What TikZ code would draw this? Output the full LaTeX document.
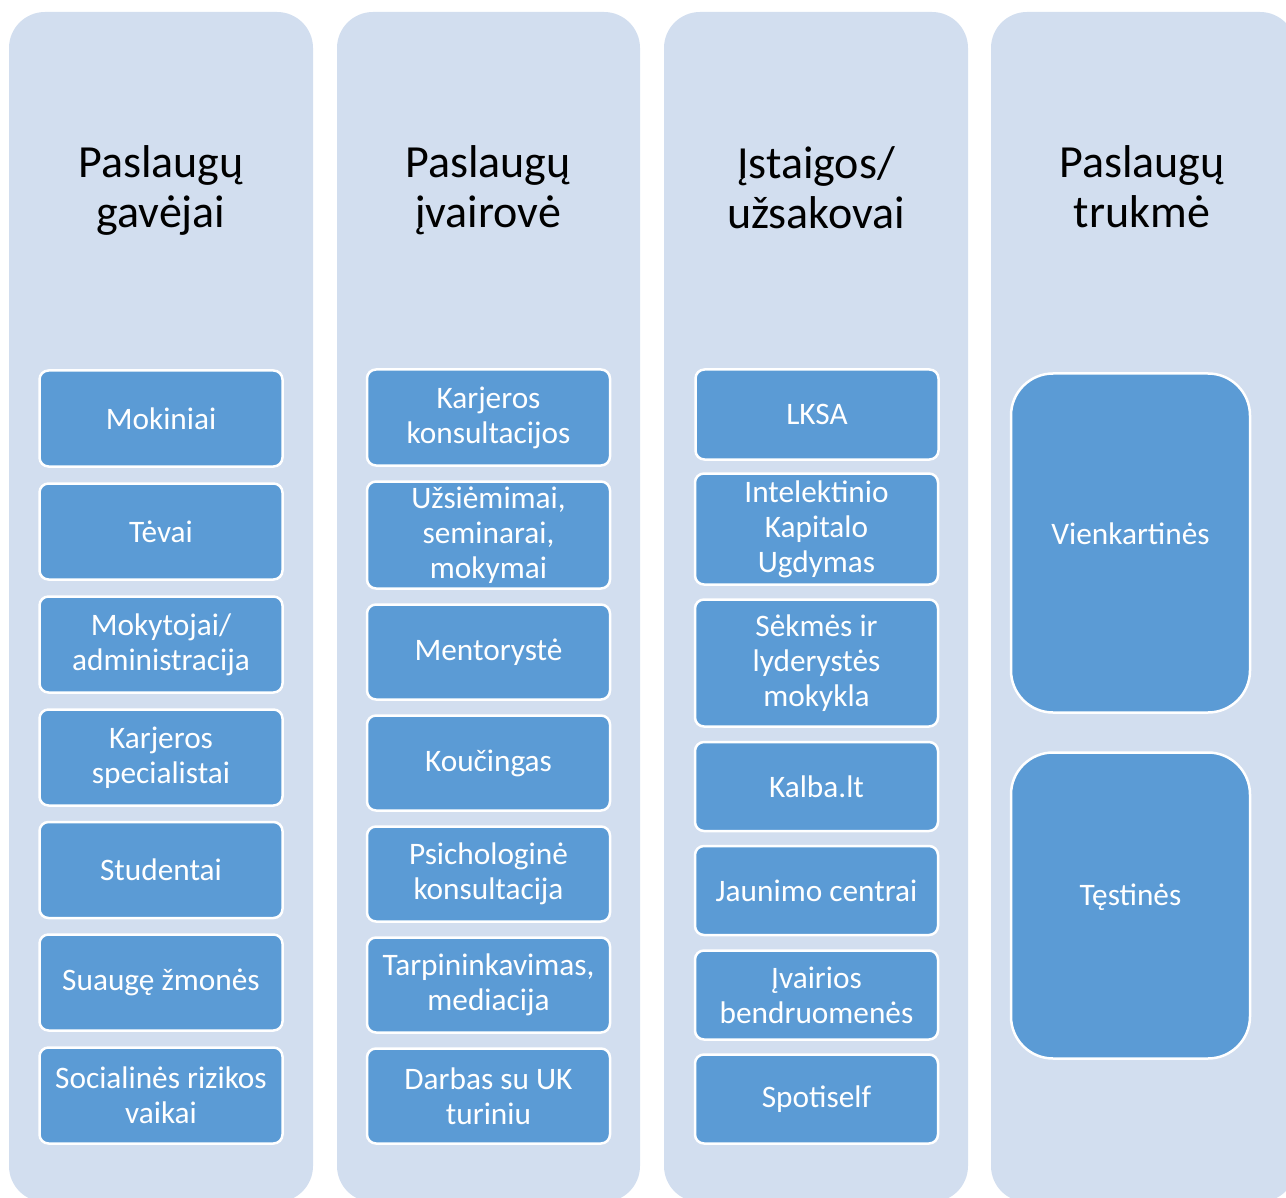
\documentclass[tikz,border=0pt]{standalone}
\usepackage{fontspec}
\setmainfont{Carlito}
\definecolor{colbg}{HTML}{D2DEEF}
\definecolor{boxblue}{HTML}{5B9BD5}
\tikzset{
  colbox/.style={fill=colbg, rounded corners=36pt},
  coltitle/.style={align=center, text=black, font=\fontsize{46}{50}\selectfont, inner sep=0pt},
  item/.style={draw=white, line width=2.5pt, fill=boxblue, rounded corners=9pt, text=white,
    align=center, font=\fontsize{31.3}{35}\selectfont, inner sep=0pt, minimum width=243pt},
  bigitem/.style={item, rounded corners=42pt, minimum width=239pt},
  bigtext/.style={text=white, font=\fontsize{31.3}{35}\selectfont, inner sep=0pt},
}
\begin{document}
\begin{tikzpicture}[x=1pt,y=-1pt]
\useasboundingbox (0,0) rectangle (1286,1198);
\clip (0,0) rectangle (1286,1198);
% columns
\fill[colbox] (9,12) rectangle (313,1202);
\fill[colbox] (337,12) rectangle (640,1202);
\fill[colbox] (664,12) rectangle (968,1202);
\fill[colbox] (991,12) rectangle (1296,1202);
% titles
\node[coltitle] (t1) at (161,190) {Paslaugų\\gavėjai};
\node[coltitle] (t2) at (488,190) {Paslaugų\\įvairovė};
\node[coltitle] (t3) at (816,188) {Įstaigos/\\užsakovai};
\node[coltitle] (t4) at (1142,187) {Paslaugų\\trukmė};
% column 1
\node[item, minimum height=96pt] (a1) at (161,418.5) {Mokiniai};
\node[item, minimum height=96pt] (a2) at (161,531.5) {Tėvai};
\node[item, minimum height=96pt] (a3) at (161,644.5) {Mokytojai/\\administracija};
\node[item, minimum height=96pt] (a4) at (161,757.5) {Karjeros\\specialistai};
\node[item, minimum height=96pt] (a5) at (161,870) {Studentai};
\node[item, minimum height=96pt] (a6) at (161,982.5) {Suaugę žmonės};
\node[item, minimum height=96pt] (a7) at (161,1095.5) {Socialinės rizikos\\vaikai};
% column 2
\node[item, minimum height=96pt] (b1) at (488.5,417.5) {Karjeros\\konsultacijos};
\node[item, minimum height=107pt] (b2) at (488.5,535) {Užsiėmimai,\\seminarai,\\mokymai};
\node[item, minimum height=95pt] (b3) at (488.5,652) {Mentorystė};
\node[item, minimum height=95pt] (b4) at (488.5,763) {Koučingas};
\node[item, minimum height=95pt] (b5) at (488.5,874) {Psichologinė\\konsultacija};
\node[item, minimum height=95pt] (b6) at (488.5,985) {Tarpininkavimas,\\mediacija};
\node[item, minimum height=95pt] (b7) at (488.5,1096) {Darbas su UK\\turiniu};
% column 3
\node[item, minimum height=90pt] (c1) at (817,414.5) {LKSA};
\node[item, minimum height=111pt] (c2) at (816.5,529) {Intelektinio\\Kapitalo\\Ugdymas};
\node[item, minimum height=127pt] (c3) at (816.5,663) {Sėkmės ir\\lyderystės\\mokykla};
\node[item, minimum height=89pt] (c4) at (816.5,786.5) {Kalba.lt};
\node[item, minimum height=89pt] (c5) at (816.5,890.5) {Jaunimo centrai};
\node[item, minimum height=89pt] (c6) at (816.5,995) {Įvairios\\bendruomenės};
\node[item, minimum height=89pt] (c7) at (816.5,1099) {Spotiself};
% column 4
\node[bigitem, minimum height=339pt] (d1) at (1130.5,543) {};
\node[bigtext] (d1t) at (1130.5,534) {Vienkartinės};
\node[bigitem, minimum height=306pt] (d2) at (1130.5,905.5) {};
\node[bigtext] (d2t) at (1130.5,897) {Tęstinės};
\end{tikzpicture}
\end{document}
